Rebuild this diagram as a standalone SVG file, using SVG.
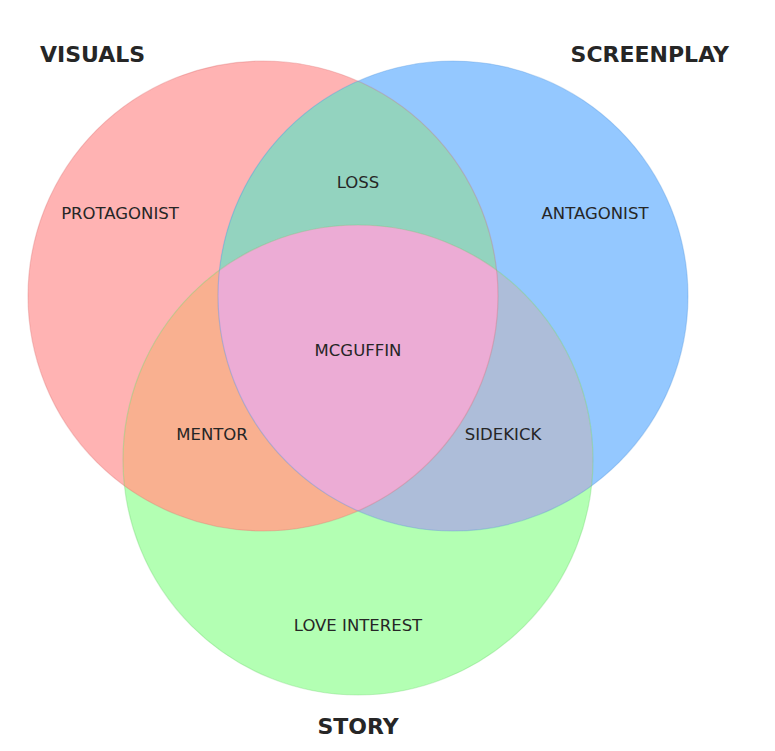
<svg xmlns="http://www.w3.org/2000/svg" width="775" height="751" viewBox="0 0 775 751">
<style>
.title{font-family:"DejaVu Sans",sans-serif;font-weight:bold;font-size:22px;fill:#262626}
.lbl{font-family:"DejaVu Sans",sans-serif;font-size:16.5px;fill:#262626;text-anchor:middle}
.edge{fill:none;stroke-width:1.2;stroke-opacity:0.3}
</style>
<defs>
<clipPath id="cR"><circle cx="263" cy="296" r="235"/></clipPath>
<clipPath id="cB"><circle cx="453" cy="296" r="235"/></clipPath>
<clipPath id="cRB" clip-path="url(#cR)"><circle cx="453" cy="296" r="235"/></clipPath>
</defs>
<rect width="775" height="751" fill="#ffffff"/>
<g id="regions">
<circle id="visuals" cx="263" cy="296" r="235" fill="#ffb3b3"/>
<circle id="screenplay" cx="453" cy="296" r="235" fill="#94c8ff"/>
<circle id="story" cx="358" cy="460" r="235" fill="#b3ffb3"/>
<circle id="loss" cx="453" cy="296" r="235" fill="#93d3bf" clip-path="url(#cR)"/>
<circle id="mentor" cx="358" cy="460" r="235" fill="#f9b090" clip-path="url(#cR)"/>
<circle id="sidekick" cx="358" cy="460" r="235" fill="#adbdd9" clip-path="url(#cB)"/>
<circle id="mcguffin" cx="358" cy="460" r="235" fill="#ecacd5" clip-path="url(#cRB)"/>
</g>
<g id="edges">
<circle class="edge" cx="263" cy="296" r="235" stroke="#d86a6a"/>
<circle class="edge" cx="453" cy="296" r="235" stroke="#4a90d8"/>
<circle class="edge" cx="358" cy="460" r="235" stroke="#6acc6a"/>
</g>
<g id="titles">
<text class="title" x="40" y="62">VISUALS</text>
<text class="title" x="729" y="62" text-anchor="end">SCREENPLAY</text>
<text class="title" x="358" y="734" text-anchor="middle">STORY</text>
</g>
<g id="labels">
<text class="lbl" x="120" y="219">PROTAGONIST</text>
<text class="lbl" x="358" y="188">LOSS</text>
<text class="lbl" x="595" y="219">ANTAGONIST</text>
<text class="lbl" x="358" y="356">MCGUFFIN</text>
<text class="lbl" x="212" y="440">MENTOR</text>
<text class="lbl" x="503" y="440">SIDEKICK</text>
<text class="lbl" x="358" y="631">LOVE INTEREST</text>
</g>
</svg>
